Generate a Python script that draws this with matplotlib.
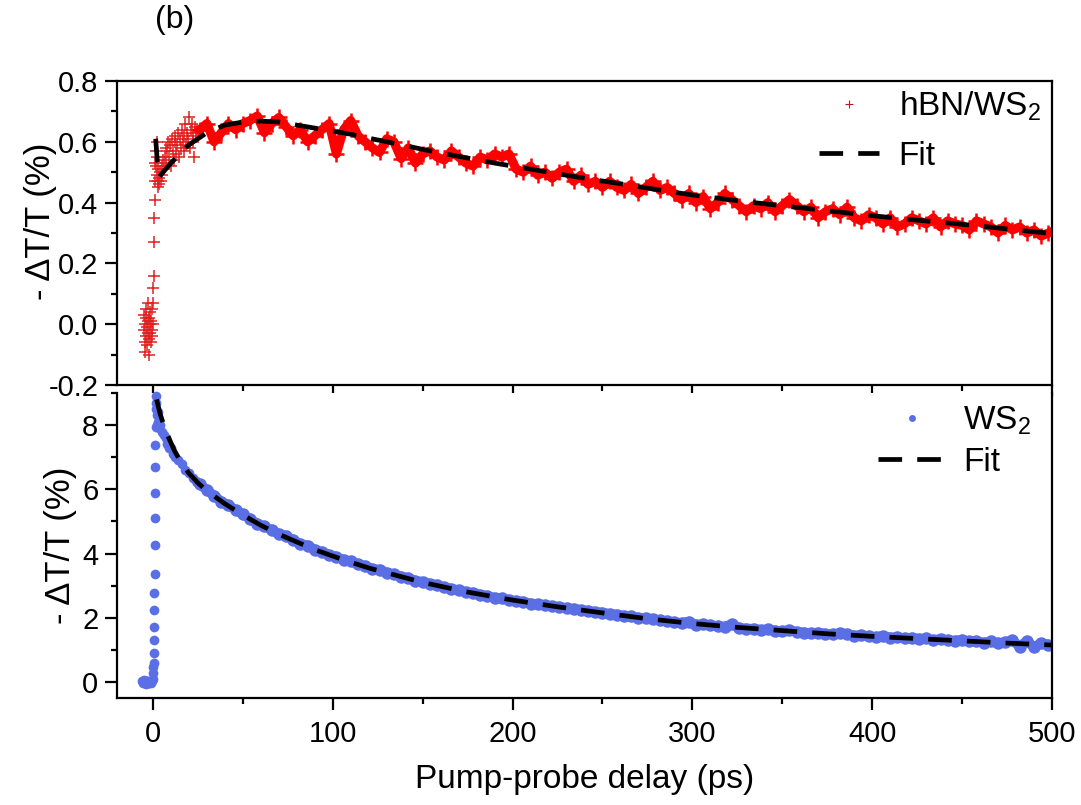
import matplotlib
matplotlib.use("Agg")
import matplotlib.pyplot as plt
from matplotlib import font_manager
from matplotlib.lines import Line2D
import numpy as np

# ---------------- data ----------------
# top panel (hBN/WS2), early scattered points
red_early_x = [-5.0, -4.8, -4.6, -4.4, -4.2, -4.0, -3.8, -3.6, -3.4, -3.2, -3.0, -2.8, -2.6, -2.4,
               -2.2, -2.0, -1.8, -1.6, -1.4, -1.2, -1.0, -0.8, -0.6, -0.4, -0.2,
               0.0, 0.2, 0.4, 0.6, 0.8, 1.0, 1.2, 1.4,
               1.6, 1.8, 2.0, 2.2, 2.4, 2.6, 2.8, 3.0, 3.3, 3.6, 4.0, 4.4, 4.8, 5.2, 5.6, 6.0,
               6.5, 7.0, 7.5, 8.0, 8.5, 9.0, 9.5, 10.0, 10.5, 11.0, 11.5, 12.0, 12.5, 13.0, 13.5,
               14.0, 14.5, 15.0, 15.5, 16.0, 16.5, 17.0, 17.5, 18.0, 18.5, 19.0, 19.5, 20.0, 20.5,
               21.0, 21.5, 22.0, 22.5, 23.0, 23.5, 24.0, 24.5]
red_early_y = [-0.02, 0.03, -0.06, 0.00, -0.09, 0.02, -0.04, 0.05, -0.01, -0.07, 0.01, -0.03, 0.07, -0.05,
               0.02, -0.10, 0.00, -0.03, 0.04, -0.06, 0.01, -0.02, 0.05, -0.04, 0.00,
               0.07, 0.12, 0.16, 0.27, 0.35, 0.41, 0.47, 0.53,
               0.57, 0.52, 0.60, 0.49, 0.55, 0.47, 0.51, 0.45, 0.48, 0.46, 0.50, 0.47, 0.52, 0.49, 0.54, 0.51,
               0.55, 0.58, 0.53, 0.57, 0.60, 0.55, 0.59, 0.52, 0.61, 0.57, 0.54, 0.60, 0.62, 0.56, 0.59,
               0.63, 0.55, 0.61, 0.58, 0.64, 0.60, 0.57, 0.62, 0.66, 0.59, 0.63, 0.61, 0.68, 0.58,
               0.64, 0.66, 0.62, 0.60, 0.55, 0.65, 0.63, 0.64]

# top panel dense part
red_x = list(range(26, 499, 4))
red_y = [0.64, 0.66, 0.60, 0.63, 0.66, 0.64, 0.66, 0.67, 0.685, 0.63, 0.66, 0.68, 0.65, 0.62, 0.64,
         0.60, 0.62, 0.64, 0.66, 0.56, 0.64, 0.67, 0.62, 0.60, 0.58, 0.565, 0.61, 0.60, 0.545, 0.58,
         0.53, 0.56, 0.57, 0.55, 0.54, 0.57, 0.55, 0.53, 0.52, 0.55, 0.54, 0.56, 0.55, 0.56, 0.51,
         0.50, 0.52, 0.49, 0.50, 0.48, 0.50, 0.51, 0.47, 0.49, 0.46, 0.47, 0.45, 0.47, 0.45, 0.44,
         0.46, 0.43, 0.45, 0.47, 0.44, 0.45, 0.43, 0.41, 0.43, 0.40, 0.42, 0.38, 0.40, 0.43, 0.41,
         0.39, 0.37, 0.39, 0.38, 0.40, 0.37, 0.39, 0.41, 0.39, 0.37, 0.385, 0.35, 0.37, 0.38, 0.36,
         0.385, 0.35, 0.34, 0.36, 0.35, 0.33, 0.35, 0.32, 0.33, 0.35, 0.34, 0.33, 0.35, 0.32, 0.34,
         0.33, 0.325, 0.31, 0.34, 0.33, 0.32, 0.30, 0.325, 0.31, 0.32, 0.30, 0.31, 0.29, 0.30]

# top panel fit
red_fit_x = [1.5, 2.5, 3.5, 10, 20, 30, 40, 50, 60, 70, 80, 90, 100, 110, 120, 130, 140, 150, 160, 170,
             180, 190, 200, 220, 240, 260, 280, 300, 320, 340, 360, 380, 400, 420, 440, 460, 480, 500]
red_fit_y = [0.61, 0.53, 0.485, 0.53, 0.59, 0.63, 0.655, 0.665, 0.668, 0.665, 0.655, 0.645, 0.635, 0.625,
             0.612, 0.60, 0.588, 0.575, 0.563, 0.552, 0.541, 0.53, 0.52, 0.50, 0.48, 0.462, 0.443, 0.425,
             0.41, 0.396, 0.383, 0.37, 0.357, 0.345, 0.334, 0.323, 0.31, 0.298]

# bottom panel (WS2), early points
blue_early_x = [-6.0, -5.5, -5.0, -4.5, -4.0, -3.5, -3.0, -2.5, -2.0, -1.5, -1.0, -0.5,
                0.0, 0.1, 0.2, 0.3, 0.4, 0.5, 0.6, 0.7, 0.8, 0.9, 1.0, 1.1, 1.2, 1.3, 1.4, 1.5,
                1.6, 1.7, 1.9, 2.1, 2.4, 2.7, 3.0, 3.5, 4, 5, 6, 7, 8, 9, 10, 11, 12, 14, 16, 18,
                20, 22, 24]
blue_early_y = [0.02, -0.03, 0.05, 0.00, -0.05, 0.03, -0.02, 0.04, -0.04, 0.01, -0.03, 0.02,
                0.10, 0.27, 0.48, 0.58, 0.89, 1.31, 1.70, 2.24, 2.78, 3.36, 4.27, 5.12, 5.88, 6.69, 7.37, 7.95,
                8.5, 8.9, 8.7, 8.3, 8.0, 8.4, 8.1, 7.9, 8.0, 7.8, 7.7, 7.6, 7.4, 7.3, 7.3, 7.1, 7.0, 6.9,
                6.8, 6.6, 6.5, 6.35, 6.25]

blue_x = list(range(26, 499, 4))
blue_y = [6.15, 5.98, 5.80, 5.62, 5.50, 5.36, 5.22, 5.08, 4.92, 4.85, 4.72, 4.62, 4.55, 4.42, 4.30,
          4.25, 4.12, 4.05, 3.96, 3.90, 3.80, 3.76, 3.66, 3.62, 3.52, 3.50, 3.40, 3.36, 3.28, 3.24,
          3.15, 3.12, 3.06, 3.02, 2.95, 2.90, 2.86, 2.80, 2.78, 2.72, 2.68, 2.62, 2.60, 2.56, 2.52,
          2.50, 2.44, 2.42, 2.40, 2.36, 2.34, 2.30, 2.28, 2.24, 2.22, 2.18, 2.16, 2.12, 2.10, 2.06,
          2.04, 2.00, 1.98, 1.96, 1.92, 1.90, 1.86, 1.84, 1.88, 1.78, 1.80, 1.76, 1.74, 1.72, 1.80,
          1.68, 1.66, 1.66, 1.62, 1.64, 1.60, 1.58, 1.62, 1.56, 1.54, 1.52, 1.54, 1.50, 1.48, 1.52,
          1.50, 1.44, 1.46, 1.42, 1.40, 1.44, 1.38, 1.40, 1.36, 1.38, 1.34, 1.36, 1.30, 1.34, 1.30,
          1.28, 1.32, 1.26, 1.28, 1.22, 1.26, 1.20, 1.24, 1.30, 1.10, 1.28, 1.08, 1.22, 1.16]

blue_fit_x = [2, 4, 6, 8, 10, 12, 15, 20, 25, 30, 40, 50, 60, 70, 80, 90, 100, 110, 120, 130, 140, 150,
              160, 175, 200, 225, 250, 275, 300, 325, 350, 375, 400, 425, 450, 475, 500]
blue_fit_y = [8.8, 8.35, 8.0, 7.7, 7.45, 7.2, 6.9, 6.5, 6.2, 5.95, 5.55, 5.2, 4.88, 4.6, 4.36, 4.12, 3.92,
              3.73, 3.55, 3.4, 3.25, 3.1, 2.98, 2.8, 2.55, 2.34, 2.15, 1.97, 1.82, 1.7, 1.6, 1.5, 1.42,
              1.35, 1.28, 1.21, 1.15]

x_ticks = [0, 100, 200, 300, 400, 500]
top_yticks = [-0.2, 0.0, 0.2, 0.4, 0.6, 0.8]
bot_yticks = [0, 2, 4, 6, 8]

# ---------------- style ----------------
avail = {f.name for f in font_manager.fontManager.ttflist}
fam = "Liberation Sans" if "Liberation Sans" in avail else "DejaVu Sans"
plt.rcParams["font.family"] = [fam, "DejaVu Sans"]
plt.rcParams["mathtext.fontset"] = "custom"
plt.rcParams["mathtext.rm"] = fam
plt.rcParams["mathtext.it"] = fam
plt.rcParams["mathtext.bf"] = fam

RED = "#FF0000"
BLUE = "#5A6EE6"

W, H = 1081, 805
fig = plt.figure(figsize=(W / 100, H / 100), dpi=100)

def fx(px):
    return px / W

def fy(py):
    return 1 - py / H

L, R = 117, 1052
ax1 = fig.add_axes([fx(L), fy(385), fx(R) - fx(L), fy(81) - fy(385)])
ax2 = fig.add_axes([fx(L), fy(698), fx(R) - fx(L), fy(393) - fy(698)])

for ax in (ax1, ax2):
    ax.set_xlim(-20, 500)
    for s in ax.spines.values():
        s.set_linewidth(1.6)
    ax.set_xticks(x_ticks)
    ax.set_xticks([50, 150, 250, 350, 450], minor=True)
    ax.tick_params(which="major", direction="out", length=8.5, width=1.6, labelsize=21, pad=5)
    ax.tick_params(which="minor", direction="out", length=4.5, width=1.6)
    ax.tick_params(top=False, right=False, which="both")

ax1.set_ylim(-0.2, 0.8)
ax1.set_yticks(top_yticks)
ax1.set_yticklabels(["-0.2", "0.0", "0.2", "0.4", "0.6", "0.8"])
ax1.set_yticks([-0.1, 0.1, 0.3, 0.5, 0.7], minor=True)
ax1.tick_params(axis="x", labelbottom=False)

ax2.set_ylim(-0.5, 9)
ax2.set_yticks(bot_yticks)
ax2.set_yticks([1, 3, 5, 7, 9], minor=True)
ax2.spines["top"].set_visible(False)
ax2.tick_params(axis="x", pad=7)

# ---------------- plotting ----------------
ax1.plot(red_early_x, red_early_y, linestyle="none", marker="+", ms=9, mew=1.1, color="#E02020", zorder=2)
ax1.plot(red_x, red_y, color=RED, lw=6.5, marker="+", ms=12, mew=1.8, zorder=2)
ax1.plot(red_fit_x, red_fit_y, color="black", lw=3.4, linestyle=(0, (5, 3.2)), zorder=3)

ax2.plot(blue_early_x, blue_early_y, linestyle="none", marker="o", ms=7, color=BLUE, mew=0, zorder=2, clip_on=False)
ax2.plot(blue_x, blue_y, color=BLUE, lw=7, marker="o", ms=9, mew=0, zorder=2)
ax2.plot(blue_fit_x, blue_fit_y, color="black", lw=3.4, linestyle=(0, (5, 3.2)), zorder=3, clip_on=False)

# legends
h_red = Line2D([], [], linestyle="none", marker="+", ms=6, mew=0.8, color="#D01010")
h_fit = Line2D([], [], color="black", lw=3.4, linestyle=(0, (5, 3.2)))
ax1.legend([h_red, h_fit], ["hBN/WS$_2$", "Fit"], loc="upper right", bbox_to_anchor=(0.995, 0.995),
           frameon=False, fontsize=24, handlelength=1.8, handletextpad=0.6, labelspacing=0.55,
           borderaxespad=0, borderpad=0.2)
h_blue = Line2D([], [], linestyle="none", marker="o", ms=5, mew=0, color=BLUE)
ax2.legend([h_blue, h_fit], ["WS$_2$", "Fit"], loc="upper right", bbox_to_anchor=(0.985, 0.985),
           frameon=False, fontsize=24, handlelength=2.0, handletextpad=0.55, labelspacing=0.3,
           borderaxespad=0, borderpad=0.2)

# labels
ax1.set_ylabel("- \u0394T/T (%)", fontsize=25)
ax1.yaxis.set_label_coords(-0.064, 0.54)
ax2.set_ylabel("- \u0394T/T (%)", fontsize=25)
ax2.yaxis.set_label_coords(-0.043, 0.50)
ax2.set_xlabel("Pump-probe delay (ps)", fontsize=24, labelpad=12)

fig.text(fx(155), fy(5), "(b)", fontsize=23, va="top", ha="left")

fig.savefig("out.png", dpi=100)
